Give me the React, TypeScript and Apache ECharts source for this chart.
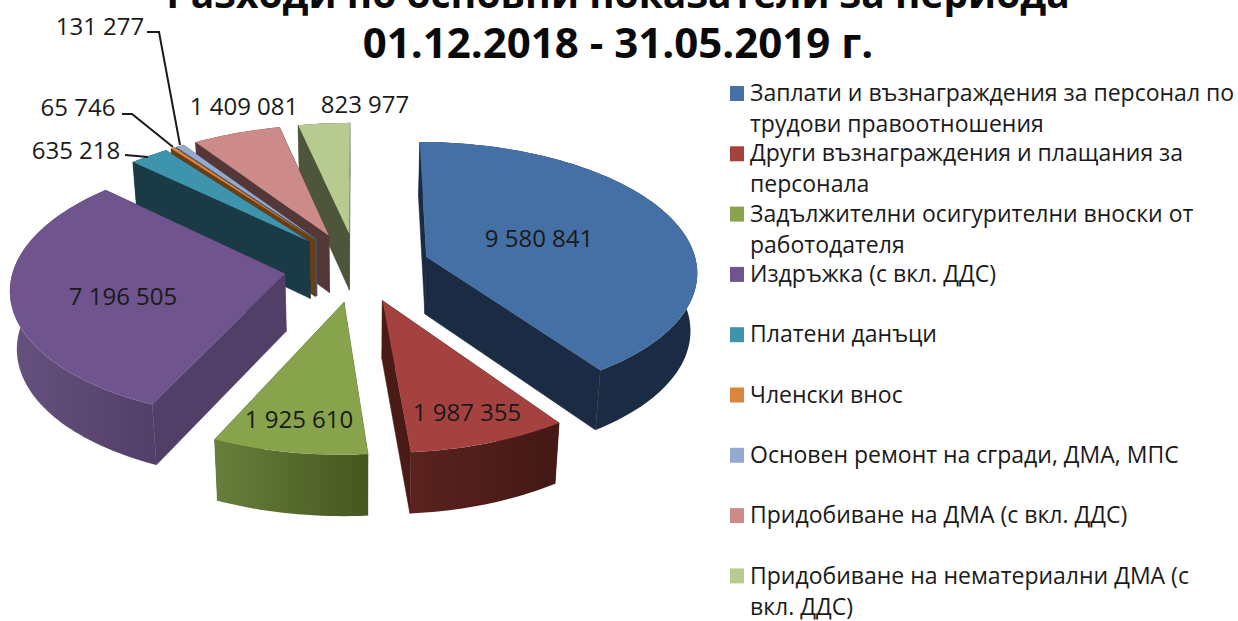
import React, { useEffect, useRef } from "react";
import * as echarts from "echarts";

const titleLines = ["Разходи по основни показатели за периода", "01.12.2018 - 31.05.2019 г."];
const names = [
  "Заплати и възнаграждения за персонал по\nтрудови правоотношения",
  "Други възнаграждения и плащания за\nперсонала",
  "Задължителни осигурителни вноски от\nработодателя",
  "Издръжка (с вкл. ДДС)",
  "Платени данъци",
  "Членски внос",
  "Основен ремонт на сгради, ДМА, МПС",
  "Придобиване на ДМА (с вкл. ДДС)",
  "Придобиване на нематериални ДМА (с\nвкл. ДДС)",
];
const values = [9580841, 1987355, 1925610, 7196505, 635218, 65746, 131277, 1409081, 823977];

const topColors = ["#4470A6", "#A5423F", "#87A34C", "#70548E", "#3F94AD", "#DB843D", "#93A9CF", "#CC8B89", "#B7CA90"];
const wallColors = ["#1A2B43", "#4A1A17", "#4F6128", "#523F68", "#1A3A46", "#6B3F14", "#4A5568", "#543838", "#4D553A"];
const rimLeftColors = ["#1A2B43", "#5A231F", "#677F3C", "#66517F", "#1A3A46", "#6B3F14", "#4A5568", "#543838", "#4D553A"];
const rimRightColors = ["#1A2B43", "#431815", "#47561F", "#523F68", "#1A3A46", "#6B3F14", "#4A5568", "#543838", "#4D553A"];
const paintRank = [6, 7, 8, 5, 4, 3, 2, 1, 0];
const labelAnchors = [[539, 237], [467, 411], [299, 418], [123, 295], [76, 149], [78, 106], [100, 25], [244, 105], [365, 103]];
const leaderLines = [
  [[125, 155], [148, 157]],
  [[122, 114], [132, 114], [173, 147]],
  [[147, 32], [159, 32], [180, 145]],
];

const CX = 357, CY = 267, RX = 271, RY = 128.7, PERSP = 0.1045, EXPLODE = 0.27, DEPTH = 57.5, DEPTH_PERSP = 0.05, BOTTOM_SHRINK = 0.02;
const FONT = '"Open Sans", "Noto Sans", sans-serif';
const total = values.reduce((a, b) => a + b, 0);

const project = (wx: number, wy: number, drop: number) => {
  const w = 1 - PERSP * wy;
  const shrink = 1 - (BOTTOM_SHRINK * drop) / DEPTH;
  return [CX + ((RX * wx) / w) * shrink, CY + (RY * wy) / w + drop / (1 - DEPTH_PERSP * wy)];
};
const fmt = (v: number) => String(v).replace(/\B(?=(\d{3})+$)/g, " ");

export default function App() {
  const ref = useRef<HTMLDivElement>(null);
  useEffect(() => {
    document.body.style.margin = "0";
    document.body.style.background = "#fff";
    const chart = echarts.init(ref.current!, null, { renderer: "svg" });
    const renderItem = (params: any, api: any) => {
      const i = params.dataIndex;
      const v = api.value(0);
      const before = values.slice(0, i).reduce((a, b) => a + b, 0);
      const t0 = (before / total) * Math.PI * 2;
      const t1 = ((before + v) / total) * Math.PI * 2;
      const mid = (t0 + t1) / 2;
      const ox = EXPLODE * Math.sin(mid);
      const oy = -EXPLODE * Math.cos(mid);
      const steps = Math.max(2, Math.ceil(((t1 - t0) * 180) / Math.PI / 1.5));
      const rimAt = (t: number, d: number) => project(ox + Math.sin(t), oy - Math.cos(t), d);
      const rimTop: number[][] = [];
      const rimBottom: number[][] = [];
      for (let s = 0; s <= steps; s++) {
        const t = t0 + ((t1 - t0) * s) / steps;
        rimTop.push(rimAt(t, 0));
        rimBottom.push(rimAt(t, DEPTH));
      }
      const apexTop = project(ox, oy, 0);
      const apexBottom = project(ox, oy, DEPTH);
      const base = paintRank[i] * 10;
      const wall = (t: number, z: number) => ({
        type: "polygon",
        z2: base + z,
        shape: { points: [apexTop, rimAt(t, 0), rimAt(t, DEPTH), apexBottom] },
        style: { fill: wallColors[i], stroke: wallColors[i], lineWidth: 0.5 },
      });
      const backFirst = Math.cos(t0) > Math.cos(t1);
      return {
        type: "group",
        children: [
          wall(backFirst ? t0 : t1, 0),
          wall(backFirst ? t1 : t0, 1),
          {
            type: "polygon",
            z2: base + 2,
            shape: { points: [...rimTop, ...rimBottom.slice().reverse()] },
            style: {
              fill: {
                type: "linear", x: 0, y: 0, x2: 1, y2: 0,
                colorStops: [
                  { offset: 0, color: rimLeftColors[i] },
                  { offset: 1, color: rimRightColors[i] },
                ],
              },
            },
          },
          {
            type: "polygon",
            z2: base + 3,
            shape: { points: [apexTop, ...rimTop] },
            style: { fill: topColors[i] },
          },
          {
            type: "text",
            z2: 200,
            style: {
              text: fmt(v),
              x: labelAnchors[i][0],
              y: labelAnchors[i][1],
              align: "center",
              verticalAlign: "middle",
              fill: "#1a1a1a",
              font: `24px ${FONT}`,
            },
          },
        ],
      };
    };

    const legendItems: any[] = [];
    names.forEach((n, i) => {
      legendItems.push({
        type: "rect",
        shape: { x: 730, y: 86 + 60.3 * i, width: 14, height: 15 },
        style: { fill: topColors[i] },
      });
      legendItems.push({
        type: "text",
        style: {
          text: n,
          x: 750,
          y: 76.5 + 60.35 * i,
          align: "left",
          verticalAlign: "top",
          lineHeight: 31,
          fill: "#1a1a1a",
          font: `23px ${FONT}`,
        },
      });
    });

    chart.setOption({
      animation: false,
      backgroundColor: "#fff",
      graphic: {
        elements: [
          { type: "text", style: { text: titleLines[0], x: 618, y: -27, align: "center", verticalAlign: "top", fill: "#0a0a0a", font: `bold 39px ${FONT}` } },
          { type: "text", style: { text: titleLines[1], x: 618, y: 20, align: "center", verticalAlign: "top", fill: "#0a0a0a", font: `bold 42px ${FONT}` } },
          ...legendItems,
          ...leaderLines.map((pts) => ({
            type: "polyline",
            z: 10,
            shape: { points: pts },
            style: { fill: "none", stroke: "#1a1a1a", lineWidth: 2 },
          })),
        ],
      },
      series: [
        {
          type: "custom",
          coordinateSystem: "none",
          renderItem,
          data: values.map((v, i) => ({ name: names[i], value: [v] })),
          silent: true,
        },
      ],
    });
    return () => chart.dispose();
  }, []);
  return <div ref={ref} style={{ width: 1238, height: 621 }} />;
}
